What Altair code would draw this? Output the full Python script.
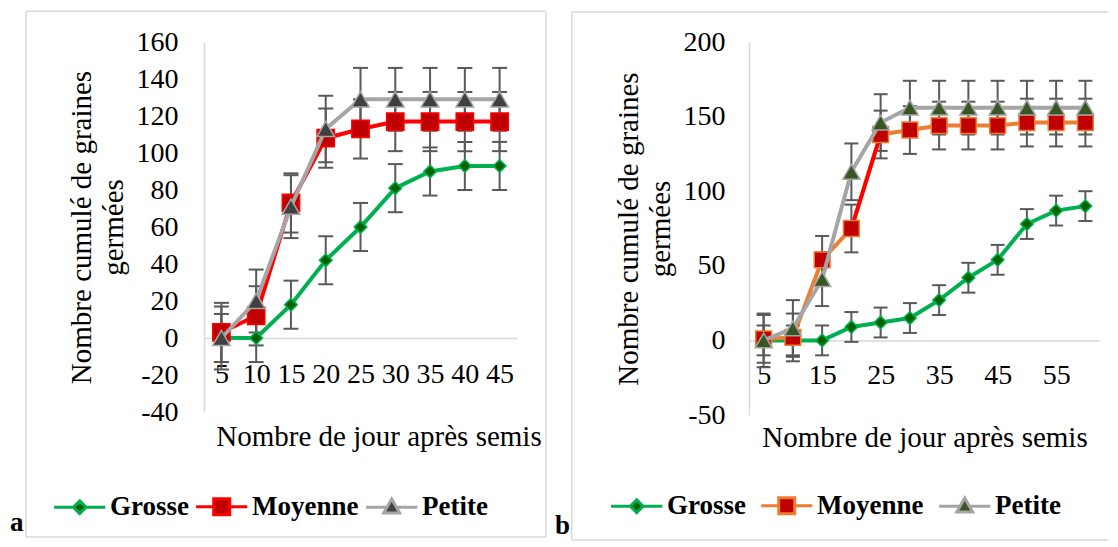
import altair as alt
import pandas as pd

FONT = "Liberation Serif"
SERIES = ["Grosse", "Moyenne", "Petite"]

# ---------------- panel a ----------------
days_a = [5, 10, 15, 20, 25, 30, 35, 40, 45]
grosse_a = [0, 0, 18, 42, 60, 81, 90, 93, 93]
grosse_a_err = [13, 13, 13, 13, 13, 13, 13, 13, 13]
moyenne_a = [3, 12, 73, 108, 113, 117, 117, 117, 117]
moyenne_a_err = [16, 16, 16, 16, 16, 16, 16, 16, 16]
petite_a = [0, 20, 71, 113, 129, 129, 129, 129, 129]
petite_a_err = [17, 17, 17, 18, 17, 17, 17, 17, 17]
yticks_a = [-40, -20, 0, 20, 40, 60, 80, 100, 120, 140, 160]
xlabels_a = [5, 10, 15, 20, 25, 30, 35, 40, 45]

# ---------------- panel b ----------------
days_b = [5, 10, 15, 20, 25, 30, 35, 40, 45, 50, 55, 60]
grosse_b = [0, 0, 0, 9, 12, 15, 27, 42, 54, 78, 87, 90]
grosse_b_err = [10, 10, 10, 10, 10, 10, 10, 10, 10, 10, 10, 10]
moyenne_b = [1, 2, 54, 75, 138, 141, 144, 144, 144, 146, 146, 146]
moyenne_b_err = [16, 16, 16, 16, 16, 16, 16, 16, 16, 16, 16, 16]
petite_b = [0, 8, 41, 113, 146, 156, 156, 156, 156, 156, 156, 156]
petite_b_err = [18, 19, 18, 19, 19, 18, 18, 18, 18, 18, 18, 18]
yticks_b = [-50, 0, 50, 100, 150, 200]
xlabels_b = [5, 15, 25, 35, 45, 55]
red_segment_b = [20, 25]

Y_TITLE = ["Nombre cumulé de graines", "germées"]
X_TITLE = "Nombre de jour après semis"
ERR = "#595959"
FRAME = "#D9D9D9"

# legend symbols: line + marker, in units of sqrt(size)/2
P_DIAMOND = "M-1,0H2M4,0H7M3,-1L4,0L3,1L2,0Z"
P_SQUARE = "M-1,0H1.75M4.25,0H7M1.75,-1.25H4.25V1.25H1.75Z"
P_TRIANGLE = "M-1,0H2.26M3.74,0H7M3,-1.3L4.25,0.9L1.75,0.9Z"


def build_df(days, vals, errs):
    rows = []
    for name, v, e in zip(SERIES, vals, errs):
        for d, vv, ee in zip(days, v, e):
            rows.append({"day": d, "s": name, "v": vv, "lo": vv - ee, "hi": vv + ee})
    return pd.DataFrame(rows)


def one():
    return alt.Chart(pd.DataFrame({"f": [0]}))


def make_panel(df, days, cfg):
    W, H = cfg["W"], cfg["H"]
    ax_x = alt.Axis(
        orient="bottom", values=cfg["xvalues"], offset=-cfg["zero_px"],
        domainColor=FRAME, domainWidth=1.5, ticks=False, tickSize=0, grid=False,
        labelAngle=0, labelOverlap=False, labelFlush=False, labelFont=FONT,
        labelFontSize=28, labelColor="black", labelPadding=cfg["xlabpad"],
        labelBaseline="middle", title=X_TITLE, titleFont=FONT, titleFontSize=29,
        titleFontWeight="normal", titleColor="black", titlePadding=cfg["xtitlepad"],
        titleX=cfg["xtitle_x"], zindex=0,
    )
    ax_y = alt.Axis(
        values=cfg["yticks"], domainColor=FRAME, domainWidth=1.5, ticks=False,
        tickSize=0, grid=False, labelFont=FONT, labelFontSize=28, labelColor="black",
        labelExpr="toString(datum.value)",
        labelPadding=cfg["ylabpad"], title=Y_TITLE, titleFont=FONT, titleFontSize=29,
        titleFontWeight="normal", titleColor="black", titlePadding=cfg["ytitlepad"],
        titleLineHeight=32, zindex=0,
    )
    x = alt.X("day:O", scale=alt.Scale(type="point", padding=0.5, domain=days), axis=ax_x)

    def y(field):
        return alt.Y(f"{field}:Q", scale=alt.Scale(domain=cfg["ydom"], nice=False, zero=False), axis=ax_y)

    base = alt.Chart(df)
    layers = []
    # panel frame (decoration)
    for seg in cfg["frame"]:
        enc = {"x": alt.value(seg[0]), "y": alt.value(seg[2])}
        if seg[1] is not None:
            enc["x2"] = alt.value(seg[1])
        if seg[3] is not None:
            enc["y2"] = alt.value(seg[3])
        layers.append(one().mark_rule(color=FRAME, strokeWidth=1.5, strokeOpacity=seg[4]).encode(**enc))
    # error bars
    for name in SERIES:
        sub = base.transform_filter(alt.datum.s == name)
        layers.append(sub.mark_rule(color=ERR, strokeWidth=2, opacity=1).encode(x=x, y=y("lo"), y2="hi:Q"))
        layers.append(sub.mark_tick(color=ERR, thickness=2, size=cfg["cap"], orient="horizontal", opacity=1).encode(x=x, y=y("lo")))
        layers.append(sub.mark_tick(color=ERR, thickness=2, size=cfg["cap"], orient="horizontal", opacity=1).encode(x=x, y=y("hi")))
    # lines + markers
    for i, name in enumerate(SERIES):
        sub = base.transform_filter(alt.datum.s == name)
        layers.append(sub.mark_line(color=cfg["line"][i], strokeWidth=4).encode(x=x, y=y("v")))
        if name == "Moyenne" and cfg.get("red_seg"):
            lo_d, hi_d = cfg["red_seg"]
            seg = base.transform_filter(
                (alt.datum.s == name) & (alt.datum.day >= lo_d) & (alt.datum.day <= hi_d))
            layers.append(seg.mark_line(color="#FF0000", strokeWidth=4).encode(x=x, y=y("v")))
        layers.append(sub.mark_point(
            shape=cfg["shape"][i], filled=True, fill=cfg["fill"][i], stroke=cfg["mstroke"][i],
            strokeWidth=1.5, size=cfg["msize"][i], opacity=1).encode(x=x, y=y("v")))
    # legend carrier (invisible marks)
    lg = alt.Legend(
        orient="none", legendX=cfg["legend"][0], legendY=cfg["legend"][1], direction="horizontal",
        labelFont=FONT, labelFontSize=27, labelFontWeight="bold", labelColor="black",
        symbolSize=164, symbolStrokeWidth=3, symbolOpacity=1, labelOffset=cfg["legoff"],
        columnPadding=cfg["legpad"], padding=0,
    )
    layers.append(
        alt.Chart(pd.DataFrame({"s": SERIES})).mark_point(filled=True, size=0, opacity=1, strokeWidth=3).encode(
            fill=alt.Fill("s:N", scale=alt.Scale(domain=SERIES, range=cfg["fill"]), legend=lg, title=None),
            stroke=alt.Stroke("s:N", scale=alt.Scale(domain=SERIES, range=cfg["line"]), legend=lg, title=None),
            shape=alt.Shape("s:N", scale=alt.Scale(domain=SERIES, range=[P_DIAMOND, P_SQUARE, P_TRIANGLE]), legend=lg, title=None),
        )
    )
    # panel tag
    layers.append(
        alt.Chart(pd.DataFrame({"t": [cfg["tag"]]})).mark_text(
            font=FONT, fontSize=27, fontWeight="bold", align="left", baseline="alphabetic", color="black"
        ).encode(x=alt.value(cfg["tagpos"][0]), y=alt.value(cfg["tagpos"][1]), text="t:N")
    )
    return alt.layer(*layers).properties(width=W, height=H)


WA, HA = 313, 370
WB, HB = 351, 373

cfg_a = dict(
    W=WA, H=HA, ydom=[-40, 160], yticks=yticks_a, xvalues=xlabels_a, zero_px=HA * 40 / 200,
    xlabpad=36, xtitlepad=34, xtitle_x=WA / 2 + 18, ylabpad=26, ytitlepad=8, cap=15,
    line=["#00B050", "#FF0000", "#A5A5A5"], fill=["#006400", "#C00000", "#404040"],
    mstroke=["#00B050", "#FF0000", "#A5A5A5"], shape=["diamond", "square", "triangle-up"],
    msize=[160, 300, 310], legend=[-157, 451], legoff=36, legpad=-3,
    frame=[
        (-178, WA + 29, -30.7, None, 1),          # top
        (-178, WA + 29, HA + 125, None, 1),       # bottom
        (-178, None, -30.7, HA + 125, 1),         # left
        (WA + 29, None, -30.7, HA + 125, 1),      # right
        (0, 10, -33.4, None, 0),                  # invisible spacer
    ],
    tag="a", tagpos=[-194, HA + 119], red_seg=None,
)
cfg_b = dict(
    W=WB, H=HB, ydom=[-50, 200], yticks=yticks_b, xvalues=xlabels_b, zero_px=HB * 50 / 250,
    xlabpad=35, xtitlepad=34, xtitle_x=WB / 2, ylabpad=24, ytitlepad=8, cap=14,
    line=["#00B050", "#ED7D31", "#A5A5A5"], fill=["#006400", "#C00000", "#375623"],
    mstroke=["#00B050", "#ED7D31", "#A5A5A5"], shape=["diamond", "square", "triangle-up"],
    msize=[160, 250, 290], legend=[-145, 450], legoff=36, legpad=8,
    frame=[
        (-177.3, WB + 8, -30, None, 1),           # top
        (-177.3, WB + 8, HB + 125, None, 1),      # bottom
        (-177.3, None, -30, HB + 125, 1),         # left
    ],
    tag="b", tagpos=[-194, HB + 119], red_seg=red_segment_b,
)

left = make_panel(build_df(days_a, [grosse_a, moyenne_a, petite_a], [grosse_a_err, moyenne_a_err, petite_a_err]), days_a, cfg_a)
right = make_panel(build_df(days_b, [grosse_b, moyenne_b, petite_b], [grosse_b_err, moyenne_b_err, petite_b_err]), days_b, cfg_b)

chart = (
    alt.hconcat(left, right, spacing=8)
    .resolve_scale(fill="independent", stroke="independent", shape="independent")
    .resolve_legend(fill="independent", stroke="independent", shape="independent")
    .properties(padding={"left": 2, "top": 0, "right": 0, "bottom": 0})
    .configure(font=FONT)
    .configure_view(strokeWidth=0)
)

chart.save("out.html", embed_options={"renderer": "svg", "actions": False})
